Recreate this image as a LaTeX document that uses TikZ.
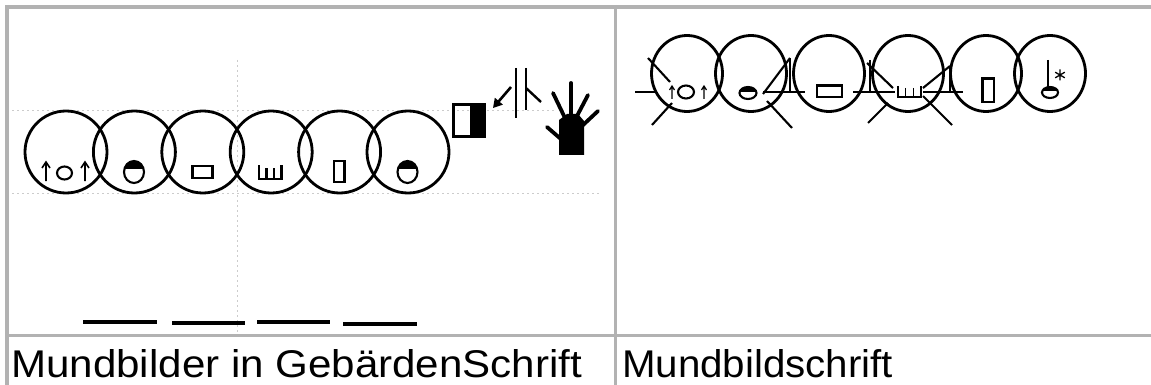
\documentclass[tikz,border=0pt]{standalone}
\usepackage{fontspec}
\newfontfamily\labelfont{Liberation Sans}
\usetikzlibrary{arrows.meta}
\tikzset{
  ring/.style={line width=2.8pt},
  glyph/.style={line width=2.1pt},
  fine/.style={line width=1.6pt},
  guide/.style={gray!40, line width=0.9pt, dash pattern=on 2pt off 3pt},
  rule/.style={gray!60, line width=3.5pt},
  finger/.style={line width=3.8pt, line cap=round},
  bar/.style={line width=3.6pt},
  cell/.style={anchor=north west, inner sep=0pt}
}
\begin{document}
\begin{tikzpicture}[x=1pt,y=-1pt]
\useasboundingbox (0,0) rectangle (1151,385);

% table rules
\draw[rule] (5,7) -- (1151,7);
\draw[rule] (7,5) -- (7,385);
\draw[rule] (615.5,5) -- (615.5,385);
\draw[rule] (5,335.5) -- (1151,335.5);

% ---------------- left cell: SignWriting mouth pictures ----------------
% guide lines
\draw[guide] (12,110) -- (555,110);
\draw[guide] (12,193) -- (600,193);
\draw[guide] (237,60) -- (237,333);

% six head circles
\foreach \i/\cx in {1/66,2/134.4,3/202.8,4/271.2,5/339.6,6/408}
  \draw[ring] (\cx,152) coordinate (h\i) circle[radius=41pt];

% mouth 1: up arrow, round mouth, up arrow
\draw[fine] (46,181) -- (46,163) (42,168) -- (46,162) -- (50,168);
\draw[glyph] (64.5,173) ellipse[x radius=7.5pt, y radius=6.5pt];
\draw[fine] (85,181) -- (85,163) (81,168) -- (85,162) -- (89,168);

% mouth 2 and 6: half-filled ovals
\foreach \cx in {134,407.5}{
  \begin{scope}
    \clip (\cx,172) ellipse[x radius=10pt, y radius=11pt];
    \fill (\cx-12,159) rectangle (\cx+12,169);
  \end{scope}
  \draw[glyph] (\cx,172) ellipse[x radius=10pt, y radius=11pt];
}

% mouth 3: wide rectangle
\draw[glyph] (192.5,166) rectangle (212.5,178);

% mouth 4: teeth
\draw[glyph] (259,165) -- (259,179) -- (281.5,179) -- (281.5,165)
             (266.5,168) -- (266.5,179) (274,168) -- (274,179);

% mouth 5: narrow rectangle
\draw[glyph] (334,161) rectangle (344.5,182);

% hand-shape square: white half and black half
\fill (470,103) rectangle (486,138);
\draw[line width=3.2pt] (453.5,104.5) rectangle (484.5,136.5);

% contact lines with movement arrow
\draw[line width=2.4pt] (516,68) -- (516,118);
\draw[line width=2.4pt] (526,68) -- (526,110);
\draw[line width=2.4pt] (526,88) -- (541,102);
\draw[line width=2.6pt, -{Triangle[length=9pt,width=10pt]}] (511,87) -- (493,108);

% hand
\fill (559,120) -- (567,114) -- (578,114) -- (584,121) -- (584,155) -- (559,155) -- cycle;
\draw[finger] (571,83) -- (571,118);
\draw[finger] (553,93) -- (565,118);
\draw[finger] (588,95) -- (577,116);
\draw[finger] (598,111) -- (582,126);
\draw[finger] (547,127) -- (562,140);

% underlines
\draw[bar] (83,322) -- (157,322);
\draw[bar] (172,323) -- (245,323);
\draw[bar] (257,322) -- (330,322);
\draw[bar] (343,324) -- (417,324);

% ---------------- right cell: Mundbildschrift ----------------
\foreach \i/\cx in {1/687,2/751,3/829,4/908,5/986,6/1050}
  \draw[ring] (\cx,73.5) coordinate (m\i) ellipse[x radius=35.5pt, y radius=38pt];

% strokes around the mouth shapes
\draw[glyph] (635,92) -- (657,92);
\draw[glyph] (648,58) -- (670,82);
\draw[glyph] (652,125) -- (672,103);

\draw[glyph] (763,92) -- (805,92);
\draw[glyph] (763,94) -- (790,58);
\draw[glyph] (767,101) -- (792,128);
\draw[glyph] (790,58) -- (790,92);

\draw[glyph] (853,92) -- (895,92);
\draw[glyph] (870,60) -- (870,92);
\draw[glyph] (867,63) -- (893,88);
\draw[glyph] (868,123) -- (888,103);

\draw[glyph] (923,92) -- (963,92);
\draw[glyph] (923,88) -- (950,66);
\draw[glyph] (923,96) -- (952,125);
\draw[glyph] (950,66) -- (950,92);

% mouth A: small arrows and round mouth
\draw[line width=1.2pt] (672,99) -- (672,87) (669.5,90) -- (672,86) -- (674.5,90);
\draw[glyph] (686,92) ellipse[x radius=8pt, y radius=6.5pt];
\draw[line width=1.2pt] (704,99) -- (704,87) (701.5,90) -- (704,86) -- (706.5,90);

% mouth B: half-filled flat oval
\begin{scope}
  \clip (748,93) ellipse[x radius=8.5pt, y radius=6pt];
  \fill (738,86) rectangle (759,92);
\end{scope}
\draw[glyph] (748,93) ellipse[x radius=8.5pt, y radius=6pt];

% mouth C: wide rectangle
\draw[glyph] (817,85.5) rectangle (842,97);

% mouth D: teeth
\draw[line width=1.5pt] (898,86) -- (898,97) -- (921,97) -- (921,86)
  (905.5,88) -- (905.5,97) (913.5,88) -- (913.5,97);

% mouth E: narrow rectangle
\draw[glyph] (982.5,78.5) rectangle (994,102);

% mouth F: tongue line, half-filled oval, star
\draw[glyph] (1048,60) -- (1048,87);
\begin{scope}
  \clip (1050,92.5) ellipse[x radius=8pt, y radius=5.5pt];
  \fill (1040,86) rectangle (1060,91.5);
\end{scope}
\draw[glyph] (1050,92.5) ellipse[x radius=8pt, y radius=5.5pt];
\draw[line width=1.3pt] (1060,69.5) -- (1060,80.5)
  (1055.2,72.2) -- (1064.8,77.8) (1055.2,77.8) -- (1064.8,72.2);

% ---------------- captions ----------------
\node[cell] (capL) at (11,349) {\resizebox{571pt}{28pt}{\labelfont Mundbilder in GebärdenSchrift}};
\node[cell] (capR) at (622,349) {\resizebox{271pt}{28pt}{\labelfont Mundbildschrift}};
\end{tikzpicture}
\end{document}
